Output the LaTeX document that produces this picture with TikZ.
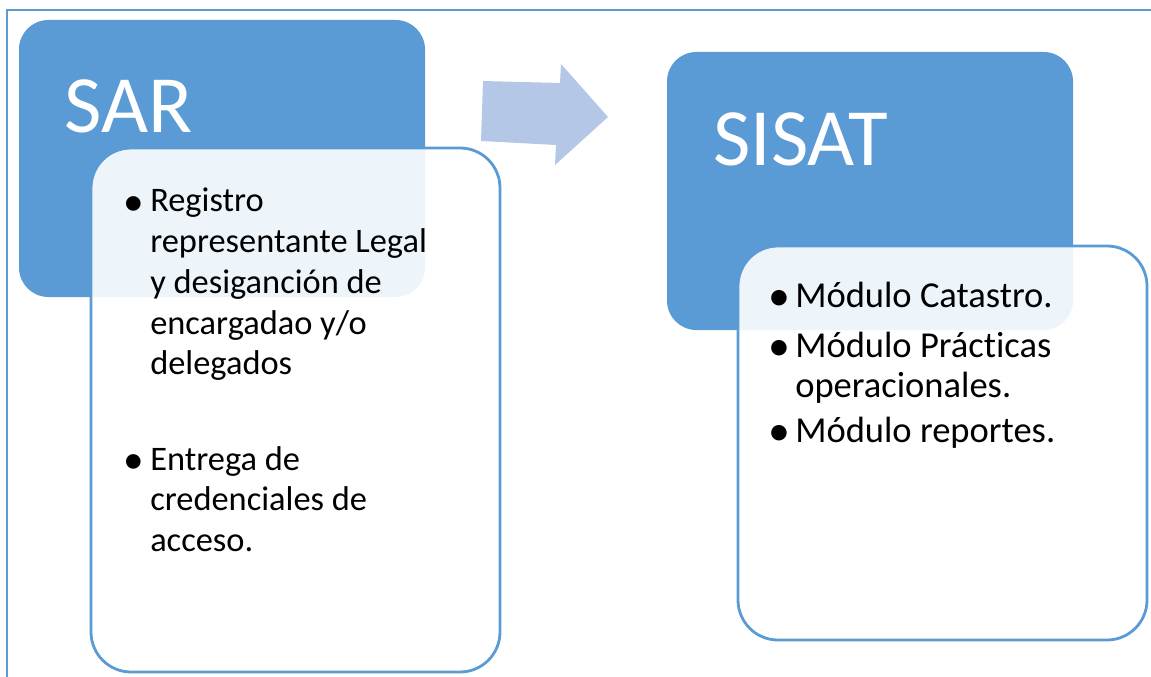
\documentclass[tikz,border=0pt]{standalone}
\usepackage{fontspec}
\setmainfont{Carlito}[Ligatures=NoCommon]
\definecolor{accent}{HTML}{5B9BD5}
\definecolor{arrowfill}{HTML}{B4C7E7}

\newcommand{\lines}[1]{\begin{tabular}[t]{@{}l@{}}#1\end{tabular}}
\newcommand{\bigdot}{\raisebox{-0.09em}{\scalebox{1.2}{•}}}

\begin{document}
\begin{tikzpicture}[x=0.75pt,y=-0.75pt,
  headbox/.style={fill=accent, rounded corners=22pt},
  listbox/.style={draw=accent, line width=2.1pt, fill=white, fill opacity=0.9, rounded corners=30pt},
  title/.style={text=white, font=\fontsize{61}{70}\selectfont, anchor=base west, inner sep=0pt},
  item/.style={font=\fontsize{25.8}{30.5}\selectfont, anchor=base west, inner sep=0pt},
  rightitem/.style={font=\fontsize{27.4}{30}\selectfont, anchor=base west, inner sep=0pt},
  dot/.style={anchor=base, inner sep=0pt}]
 \useasboundingbox (0,0) rectangle (1151,677);
 \draw [accent, line width=1.2pt] (7,677) -- (7,10) -- (1151,10);

 % SAR
 \path [headbox] (19,20) rectangle (425,297);
 \node [title] (sar) at (64,133) {SAR};
 \draw [listbox] (91,148) rectangle (500,672);
 \node [item, dot] (sar-dot1) at (134,212) {\bigdot};
 \node [item] (sar-item1) at (150,212) {\lines{Registro\\representante Legal\\y desiganción de\\encargadao y/o\\delegados}};
 \node [item, dot] (sar-dot2) at (134,470) {\bigdot};
 \node [item] (sar-item2) at (150,470) {\lines{Entrega de\\credenciales de\\acceso.}};

 % arrow
 \fill [arrowfill] (483,81) -- (560,83) -- (561,64) -- (608,117) -- (555,165) -- (556,145) -- (481,141) -- cycle;

 % SISAT
 \path [headbox] (667,52) rectangle (1073,330);
 \node [title] (sisat) at (713,166) {SISAT};
 \draw [listbox] (738,246) rectangle (1147,640);
 \node [rightitem, dot] (sisat-dot1) at (779,307) {\bigdot};
 \node [rightitem] (sisat-item1) at (795,307) {Módulo Catastro.};
 \node [rightitem, dot] (sisat-dot2) at (779,357) {\bigdot};
 \node [rightitem] (sisat-item2) at (795,357) {\lines{Módulo Prácticas\\operacionales.}};
 \node [rightitem, dot] (sisat-dot3) at (779,442) {\bigdot};
 \node [rightitem] (sisat-item3) at (795,442) {Módulo reportes.};

\end{tikzpicture}
\end{document}
